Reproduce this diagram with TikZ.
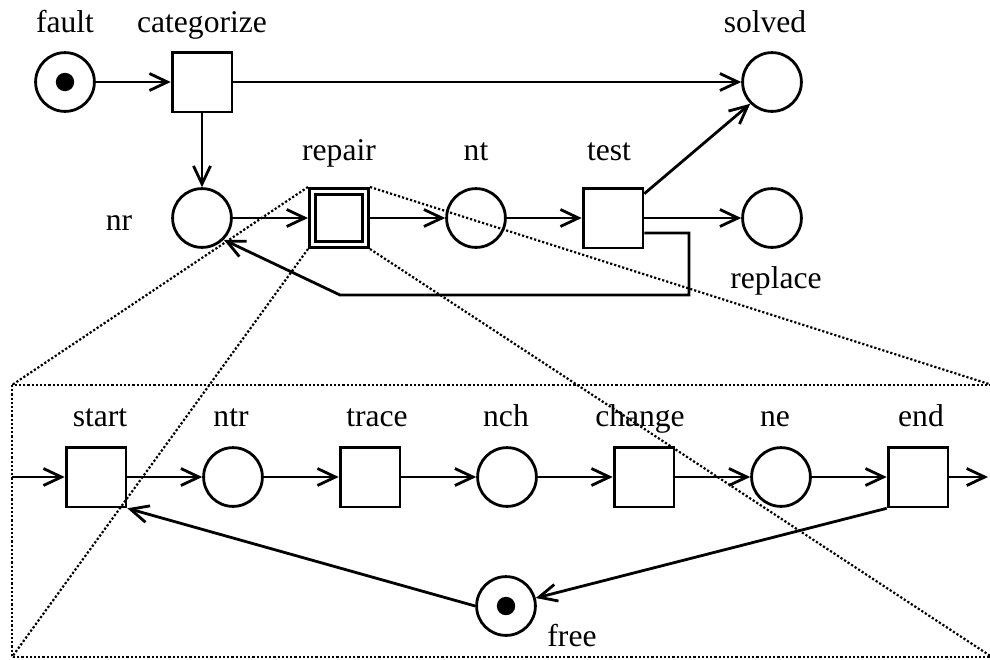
\documentclass[tikz,border=0pt]{standalone}
\usepackage{fontspec}
\setmainfont{Liberation Serif}
\usepackage{tikz}
\usetikzlibrary{arrows.meta}
\tikzstyle{place} = [circle, draw, line width=1.4pt, minimum size=29.4pt, inner sep=0pt]
\tikzstyle{trans} = [rectangle, draw, line width=1.4pt, minimum size=29.9pt, inner sep=0pt]
\tikzstyle{subnet} = [trans, double, double distance=1.8pt, minimum size=26.4pt, outer sep=2.3pt]
\tikzstyle{tag} = [anchor=base, inner sep=0pt, font=\fontsize{15.8pt}{18pt}\selectfont]
\tikzstyle{line} = [draw, line width=1.4pt, -{Straight Barb[length=9pt, width=8.5pt]}]
\tikzstyle{zoomline} = [draw, line width=1.1pt, dash pattern=on 1.1pt off 1pt]

\begin{document}
\begin{tikzpicture}[x=0.5pt, y=-0.5pt, node distance=68.5pt]
    \useasboundingbox (0,0) rectangle (990,659);
    % Place nodes
    \node [place] (fault) at (65,82) {};
    \node [trans, right of=fault] (categorize) {};
    \node [place] (solved) at (772,82) {};
    \node [place] (nr) at (202,218) {};
    \node [subnet, right of=nr] (repair) {};
    \node [place, right of=repair] (nt) {};
    \node [trans, right of=nt] (test) {};
    \node [place] (replace) at (772,218) {};
    \node [trans] (start) at (96,477) {};
    \node [place, right of=start] (ntr) {};
    \node [trans, right of=ntr] (trace) {};
    \node [place, right of=trace] (nch) {};
    \node [trans, right of=nch] (change) {};
    \node [place, right of=change] (ne) {};
    \node [trans, right of=ne] (end) {};
    \node [place] (free) at (506,606) {};
    \fill (fault) circle (4.6pt);
    \fill (free) circle (4.6pt);

    % Labels
    \node [tag] (fault-l) at (65,32) {fault};
    \node [tag] (categorize-l) at (202,32) {categorize};
    \node [tag] (solved-l) at (765,32) {solved};
    \node [tag] (repair-l) at (339,160) {repair};
    \node [tag] (nt-l) at (476,160) {nt};
    \node [tag] (test-l) at (609,160) {test};
    \node [tag] (nr-l) at (119,230) {nr};
    \node [tag] (replace-l) at (776,288) {replace};
    \node [tag] (start-l) at (100,426) {start};
    \node [tag] (ntr-l) at (231,426) {ntr};
    \node [tag] (trace-l) at (377,426) {trace};
    \node [tag] (nch-l) at (506,426) {nch};
    \node [tag] (change-l) at (640,426) {change};
    \node [tag] (ne-l) at (775,426) {ne};
    \node [tag] (end-l) at (921,426) {end};
    \node [tag] (free-l) at (572,646) {free};

    % Zoom box
    \coordinate (box-nw) at (12,385);
    \coordinate (box-sw) at (12,657);
    \coordinate (box-ne) at (992,385);
    \coordinate (box-se) at (992,657);
    \coordinate (box-in) at (12,477);
    \coordinate (box-out) at (988,477);
    \coordinate (loop-r) at (689,295);
    \coordinate (loop-l) at (340,295);
    \path [zoomline, line width=1.3pt] (box-nw) rectangle (box-se);
    \path [zoomline] (repair.north west) -- (box-nw);
    \path [zoomline] (repair.south west) -- (box-sw);
    \path [zoomline] (repair.north east) -- (box-ne);
    \path [zoomline] (repair.south east) -- (box-se);

  \path [line] (fault) -- (categorize);
  \path [line] (categorize) -- (solved);
  \path [line] (categorize) -- (nr);
  \path [line] (nr) -- (repair);
  \path [line] (repair) -- (nt);
  \path [line] (nt) -- (test);
  \path [line] (test) -- (replace);
  \path [line] ([yshift=-3.5pt]test.north east) -- (solved.south west);
  \path [line] ([yshift=-7.5pt]test.east) -| (loop-r) -- (loop-l) -- (nr.-45);
  \path [line] (box-in) -- (start);
  \path [line] (start) -- (ntr);
  \path [line] (ntr) -- (trace);
  \path [line] (trace) -- (nch);
  \path [line] (nch) -- (change);
  \path [line] (change) -- (ne);
  \path [line] (ne) -- (end);
  \path [line] (end) -- (box-out);
  \path [line] (end.south west) -- (free.15);
  \path [line] (free.west) -- (start.south east);
\end{tikzpicture}
\end{document}
